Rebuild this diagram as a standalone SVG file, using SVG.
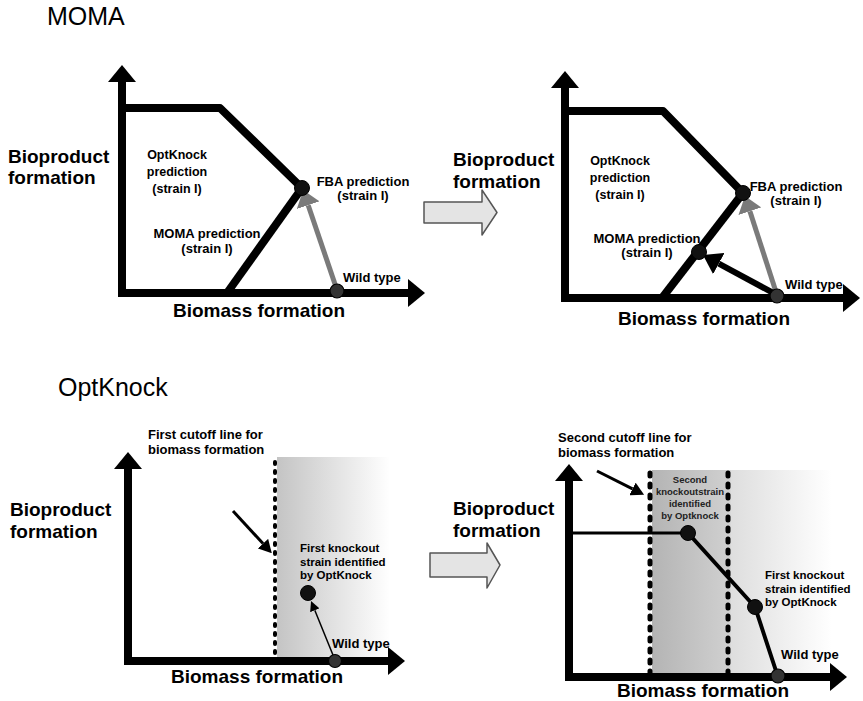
<svg xmlns="http://www.w3.org/2000/svg" width="863" height="701" viewBox="0 0 863 701">
<style>
text{font-family:"Liberation Sans",Arial,sans-serif;fill:#000}
.ttl{font-size:25px}
.lbl{font-size:19px;font-weight:bold}
.ann{font-size:13px;font-weight:bold}
.opt{font-size:12.5px;font-weight:bold}
.sm{font-size:11.5px;font-weight:bold}
.xs{font-size:9.5px;font-weight:bold;fill:#222}
.mid{text-anchor:middle}
.ax{fill:none;stroke:#000;stroke-width:8;stroke-linejoin:miter}
.ln{fill:none;stroke:#000;stroke-width:8;stroke-linejoin:round}
.dot{fill:#111;stroke:#000;stroke-width:1}
.wt{fill:#333;stroke:#000;stroke-width:1.2}
.dotted{fill:none;stroke:#000;stroke-linecap:round}
.big{fill:#e4e4e4;stroke:#555;stroke-width:1.5;stroke-linejoin:round}
</style>
<defs>
<marker id="axhead" viewBox="0 -14 17 28" refX="0" refY="0" markerWidth="17" markerHeight="28" markerUnits="userSpaceOnUse" orient="auto-start-reverse"><path d="M0,-14 L17,0 L0,14 Z" fill="#000"/></marker>
<marker id="grayhead" viewBox="0 -12 16 24" refX="0" refY="0" markerWidth="16" markerHeight="24" markerUnits="userSpaceOnUse" orient="auto"><path d="M0,-12 L16,0 L0,12 Z" fill="#7a7a7a"/></marker>
<marker id="blackhead" viewBox="0 -12 18 24" refX="0" refY="0" markerWidth="18" markerHeight="24" markerUnits="userSpaceOnUse" orient="auto"><path d="M0,-12 L18,0 L0,12 Z" fill="#000"/></marker>
<marker id="medhead" viewBox="0 -7 13 14" refX="0" refY="0" markerWidth="13" markerHeight="14" markerUnits="userSpaceOnUse" orient="auto"><path d="M0,-7 L13,0 L0,7 Z" fill="#000"/></marker>
<marker id="thinhead" viewBox="0 -5 10 10" refX="0" refY="0" markerWidth="10" markerHeight="10" markerUnits="userSpaceOnUse" orient="auto"><path d="M0,-5 L10,0 L0,5 Z" fill="#000"/></marker>
<linearGradient id="g1" x1="0" y1="0" x2="1" y2="0"><stop offset="0" stop-color="#c4c4c4"/><stop offset="1" stop-color="#fff"/></linearGradient>
<linearGradient id="g2" x1="0" y1="0" x2="1" y2="0"><stop offset="0" stop-color="#b4b4b4"/><stop offset="0.43" stop-color="#d0d0d0"/><stop offset="0.44" stop-color="#dedede"/><stop offset="1" stop-color="#fff"/></linearGradient>
</defs>

<g id="titles">
<text class="ttl" x="47" y="25">MOMA</text>
<text class="ttl" x="58" y="396">OptKnock</text>
</g>

<g id="bg-shading">
<rect x="277" y="457" width="113" height="203" fill="url(#g1)"/>
<rect x="652" y="470" width="180" height="207" fill="url(#g2)"/>
</g>

<g id="connectors">
<line x1="337" y1="290" x2="308.2" y2="205.2" stroke="#7a7a7a" stroke-width="5" marker-end="url(#grayhead)"/>
<line x1="777" y1="295" x2="749.9" y2="211.2" stroke="#7a7a7a" stroke-width="5" marker-end="url(#grayhead)"/>
<line x1="777" y1="295" x2="718.8" y2="263.6" stroke="#000" stroke-width="6" marker-end="url(#blackhead)"/>
<line x1="233" y1="511" x2="263" y2="543.6" stroke="#000" stroke-width="3" marker-end="url(#medhead)"/>
<line x1="335" y1="660" x2="314.8" y2="610.3" stroke="#000" stroke-width="1.5" marker-end="url(#thinhead)"/>
<line x1="597" y1="471" x2="632.5" y2="488.9" stroke="#000" stroke-width="3" marker-end="url(#medhead)"/>
</g>

<g id="chart-moma-before">
<path class="ax" d="M122,82 V293 H408" marker-start="url(#axhead)" marker-end="url(#axhead)"/>
<path class="ln" d="M122,108 H220 L302,188"/>
<path class="ln" d="M227,293 L302,188"/>
</g>
<g id="chart-moma-after">
<path class="ax" d="M565,88 V298 H843" marker-start="url(#axhead)" marker-end="url(#axhead)"/>
<path class="ln" d="M565,111 H663 L743,193"/>
<path class="ln" d="M662,298 L743,193"/>
</g>
<g id="chart-optknock-before">
<path class="dotted" d="M275,462 V657" stroke-width="4" stroke-dasharray="2 7"/>
<path class="ax" d="M128,469 V661 H388" marker-start="url(#axhead)" marker-end="url(#axhead)"/>
</g>
<g id="chart-optknock-after">
<path class="dotted" d="M650,473 V674" stroke-width="5" stroke-dasharray="3 8"/>
<path class="dotted" d="M728,473 V674" stroke-width="5" stroke-dasharray="3 8"/>
<path class="ax" d="M569,481 V677 H830" marker-start="url(#axhead)" marker-end="url(#axhead)"/>
<path d="M569,533 H688" fill="none" stroke="#000" stroke-width="3"/>
<path d="M688,533 L755,607 L778,677" fill="none" stroke="#000" stroke-width="4" stroke-linejoin="round"/>
</g>

<g id="fba-point-1"><circle class="dot" cx="302" cy="188" r="7.5"/></g>
<g id="wild-type-1"><circle class="wt" cx="337" cy="291" r="7"/></g>
<g id="fba-point-2"><circle class="dot" cx="743" cy="193" r="7.5"/></g>
<g id="moma-point-2"><circle class="dot" cx="699" cy="252" r="7.5"/></g>
<g id="wild-type-2"><circle class="wt" cx="777" cy="296" r="7"/></g>
<g id="ko1-point-3"><circle class="dot" cx="308" cy="593" r="7.5"/></g>
<g id="wild-type-3"><circle class="wt" cx="335" cy="661" r="6.5"/></g>
<g id="ko2-point-4"><circle class="dot" cx="688" cy="533" r="7.5"/></g>
<g id="ko1-point-4"><circle class="dot" cx="755" cy="607" r="7.5"/></g>
<g id="wild-type-4"><circle class="wt" cx="778" cy="676" r="7"/></g>

<g id="labels-moma-before">
<text class="lbl" x="8" y="163">Bioproduct</text>
<text class="lbl" x="8" y="184">formation</text>
<text class="lbl" x="173" y="317">Biomass formation</text>
<text class="opt mid" x="177" y="159">OptKnock</text>
<text class="opt mid" x="177" y="176">prediction</text>
<text class="opt mid" x="177" y="193">(strain I)</text>
<text class="ann mid" x="207" y="238">MOMA prediction</text>
<text class="ann mid" x="207" y="253">(strain I)</text>
<text class="ann mid" x="363" y="186">FBA prediction</text>
<text class="ann mid" x="363" y="200">(strain I)</text>
<text class="ann" x="343" y="282">Wild type</text>
</g>
<g id="labels-moma-after">
<text class="lbl" x="453" y="166">Bioproduct</text>
<text class="lbl" x="453" y="188">formation</text>
<text class="lbl" x="618" y="325">Biomass formation</text>
<text class="opt mid" x="620" y="165">OptKnock</text>
<text class="opt mid" x="620" y="182">prediction</text>
<text class="opt mid" x="620" y="199">(strain I)</text>
<text class="ann mid" x="647" y="243">MOMA prediction</text>
<text class="ann mid" x="647" y="257">(strain I)</text>
<text class="ann mid" x="796" y="191">FBA prediction</text>
<text class="ann mid" x="796" y="205">(strain I)</text>
<text class="ann" x="785" y="289">Wild type</text>
</g>
<g id="labels-optknock-before">
<text class="lbl" x="10" y="516">Bioproduct</text>
<text class="lbl" x="10" y="538">formation</text>
<text class="lbl" x="171" y="683">Biomass formation</text>
<text class="ann" x="148" y="439">First cutoff line for</text>
<text class="ann" x="148" y="453.5">biomass formation</text>
<text class="sm" x="300" y="552">First knockout</text>
<text class="sm" x="300" y="565.5">strain identified</text>
<text class="sm" x="300" y="579">by OptKnock</text>
<text class="ann" x="332" y="648">Wild type</text>
</g>
<g id="labels-optknock-after">
<text class="lbl" x="453" y="515">Bioproduct</text>
<text class="lbl" x="453" y="537">formation</text>
<text class="lbl" x="617" y="697">Biomass formation</text>
<text class="ann" x="558" y="442">Second cutoff line for</text>
<text class="ann" x="558" y="456.5">biomass formation</text>
<text class="xs mid" x="690" y="483">Second</text>
<text class="xs mid" x="690" y="495">knockoutstrain</text>
<text class="xs mid" x="690" y="507">identified</text>
<text class="xs mid" x="690" y="519">by Optknock</text>
<text class="sm" x="765" y="579">First knockout</text>
<text class="sm" x="765" y="592.5">strain identified</text>
<text class="sm" x="765" y="606">by OptKnock</text>
<text class="ann" x="781" y="659">Wild type</text>
</g>

<g id="step-arrow-top"><path class="big" d="M424,202 H482 V190 L497,212.5 L482,235 V223 H424 Z"/></g>
<g id="step-arrow-bottom"><path class="big" d="M430,553 H487 V543 L500,565 L487,588 V577 H430 Z"/></g>
</svg>
